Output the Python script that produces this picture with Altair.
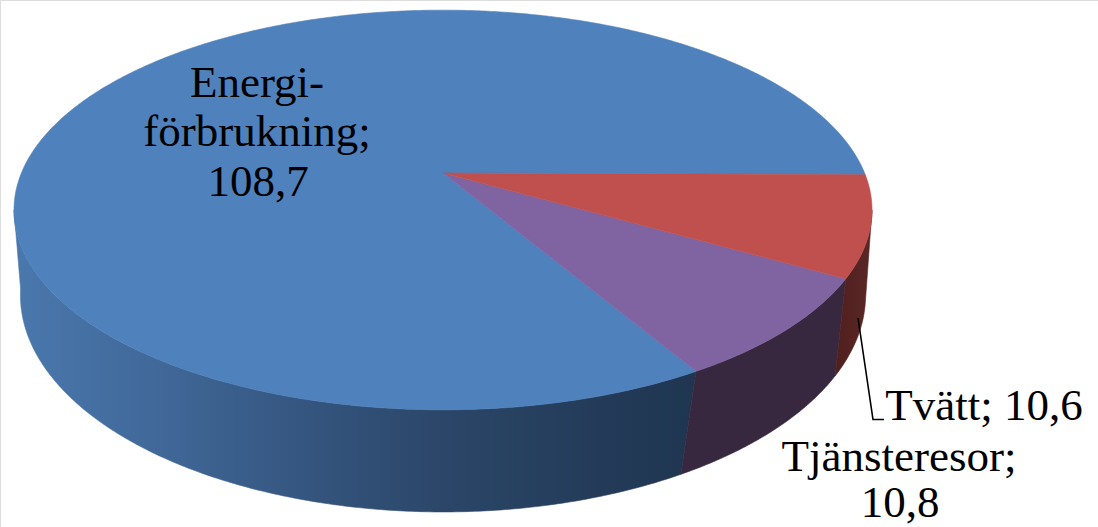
import numpy as np
import pandas as pd
import altair as alt

W, H = 1098, 527

# Slice names and values, clockwise from the red slice's upper edge
names = ["Tvätt", "Tjänsteresor", "Energiförbrukning"]
values = [10.6, 10.8, 108.7]
top_fill = ["#c0504d", "#8064a2", "#4f81bd"]
START_DEG = -0.5

# Perspective camera for the tilted disc
CX, CY_TOP = 443.0, 173.0
RX, RY, TILT = 421.6, 193.0, 0.185
# The lower rim of the wall sits closer to the eye
CY_BOTTOM, BOTTOM_SX, BOTTOM_SY, BOTTOM_TURN = 255.0, 0.985, 1.085, -1.6
# Angles where the rim turns back on itself, which bound the visible wall
SILHOUETTE = np.degrees(np.arcsin(TILT))


def rim(theta_deg, cy=CY_TOP, sx=1.0, sy=1.0):
    t = np.radians(theta_deg)
    X, Y = np.cos(t), np.sin(t)
    d = 1 + TILT * Y
    return CX + RX * sx * X / d, cy - RY * sy * Y / d


def arc_degrees(a, b):
    n = max(2, int(abs(b - a) * 2))
    return np.linspace(a, b, n)


x_scale = alt.Scale(domain=[0, W], range=[0, W], nice=False, zero=False)
y_scale = alt.Scale(domain=[0, H], range=[0, H], nice=False, zero=False)


def polygon(xs, ys, fill):
    df = pd.DataFrame({"x": xs, "y": ys, "i": np.arange(len(xs))})
    return (
        alt.Chart(df)
        .mark_line(fill=fill, stroke=fill, strokeWidth=0.6, interpolate="linear", clip=False)
        .encode(
            x=alt.X("x:Q", scale=x_scale, axis=None),
            y=alt.Y("y:Q", scale=y_scale, axis=None),
            order=alt.Order("i:Q"),
        )
    )


def horizontal(stops):
    return alt.Gradient(
        gradient="linear",
        x1=0, x2=1, y1=0, y2=0,
        stops=[alt.GradientStop(offset=o, color=c) for o, c in stops],
    )


# Angular extent of each slice
total = sum(values)
edges = [START_DEG]
for v in values:
    edges.append(edges[-1] - v / total * 360)

wall_fill = [
    horizontal([(0, "#4f1f1e"), (1, "#5a2725")]),
    "#38283f",
    horizontal([
        (0, "#4a78ad"), (0.2, "#41699a"), (0.42, "#355680"),
        (0.63, "#2b4668"), (1, "#1f3550"),
    ]),
]

layers = []

# Visible side walls, largest slice first
for i in (2, 1, 0):
    a = min(edges[i], -SILHOUETTE)
    b = max(edges[i + 1], -180 + SILHOUETTE)
    deg = arc_degrees(a, b)
    tx, ty = rim(deg)
    bx, by = rim(deg[::-1] + BOTTOM_TURN, CY_BOTTOM, BOTTOM_SX, BOTTOM_SY)
    layers.append(polygon(np.r_[tx, bx, tx[0]], np.r_[ty, by, ty[0]], wall_fill[i]))

# Top face of the disc
for i in (2, 1, 0):
    deg = arc_degrees(edges[i], edges[i + 1])
    rx, ry = rim(deg)
    layers.append(polygon(np.r_[CX, rx, CX], np.r_[CY_TOP, ry, CY_TOP], top_fill[i]))

# Leader line for the small slice
leader = pd.DataFrame({"x": [858, 873, 884], "y": [318, 419.5, 419.5], "i": [0, 1, 2]})
layers.append(
    alt.Chart(leader)
    .mark_line(color="#000000", strokeWidth=1.6)
    .encode(
        x=alt.X("x:Q", scale=x_scale, axis=None),
        y=alt.Y("y:Q", scale=y_scale, axis=None),
        order=alt.Order("i:Q"),
    )
)


def num(v):
    return f"{v}".replace(".", ",")


labels = pd.DataFrame({
    "text": [
        "Energi-", "förbrukning;", num(values[2]),
        f"{names[0]}; {num(values[0])}",
        f"{names[1]};", num(values[1]),
    ],
    "x": [257, 257, 258, 984, 899, 900],
    "y": [97, 146, 196, 420, 471, 517],
})
layers.append(
    alt.Chart(labels)
    .mark_text(font="Liberation Serif", fontSize=45, baseline="alphabetic", align="center", color="#000000")
    .encode(
        x=alt.X("x:Q", scale=x_scale, axis=None),
        y=alt.Y("y:Q", scale=y_scale, axis=None),
        text="text:N",
    )
)

chart = (
    alt.layer(*layers)
    .properties(width=W, height=H, padding=0, autosize=alt.AutoSizeParams(type="none"))
    .configure_view(stroke=None, strokeWidth=0)
    .configure(background="#ffffff")
)

chart.save("out.html", embed_options={"renderer": "svg", "actions": False})
